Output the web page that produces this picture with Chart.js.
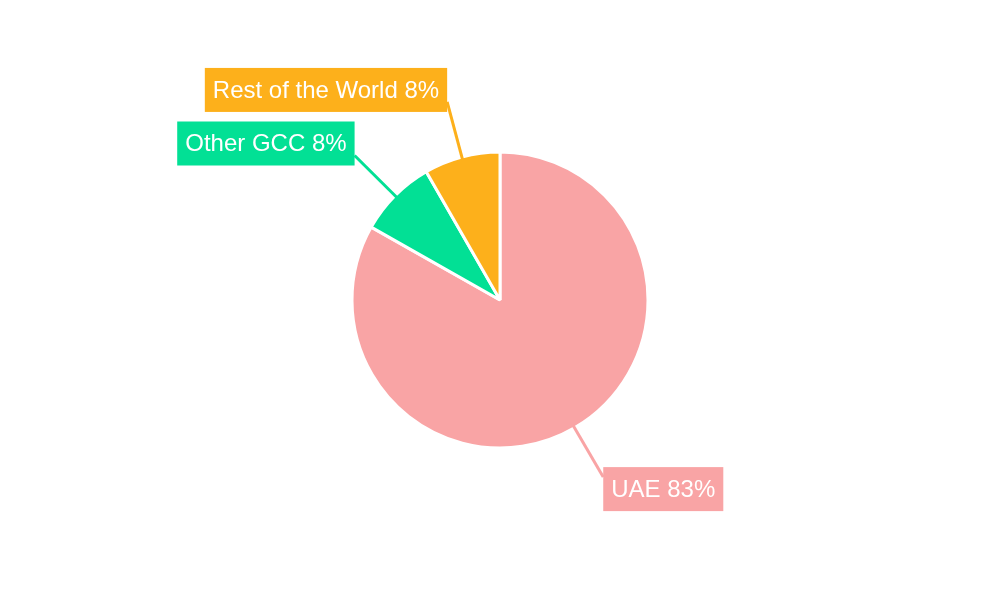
<!DOCTYPE html>
<html lang="en">
<head>
    <meta charset="UTF-8">
    <title>Revenue by Region</title>
    <script src="https://cdn.jsdelivr.net/npm/chart.js"></script>
    <style>
        html, body { margin: 0; padding: 0; background: #fff; }
        #wrap { width: 1000px; height: 600px; }
    </style>
</head>
<body>
    <div id="wrap"><canvas id="pieChart"></canvas></div>
    <script>
        const regions = ['UAE', 'Other GCC', 'Rest of the World'];
        const shares = [83.2, 8.5, 8.3];
        const colors = ['#F9A4A5', '#02E095', '#FDB01B'];

        // leader lines + coloured label boxes
        const calloutLabels = {
            id: 'calloutLabels',
            afterDatasetsDraw(chart) {
                const ctx = chart.ctx;
                const meta = chart.getDatasetMeta(0);
                ctx.save();
                ctx.font = '24px "Liberation Sans", Arial, sans-serif';
                ctx.textBaseline = 'middle';
                meta.data.forEach((arc, i) => {
                    const mid = (arc.startAngle + arc.endAngle) / 2;
                    const cos = Math.cos(mid), sin = Math.sin(mid);
                    const r = arc.outerRadius;
                    const x0 = arc.x + cos * (r - 3), y0 = arc.y + sin * (r - 3);
                    const x1 = arc.x + cos * (r + 57), y1 = arc.y + sin * (r + 57);

                    ctx.strokeStyle = colors[i];
                    ctx.lineWidth = 3;
                    ctx.beginPath();
                    ctx.moveTo(x0, y0);
                    ctx.lineTo(x1, y1);
                    ctx.stroke();

                    const text = regions[i] + ' ' + Math.floor(shares[i]) + '%';
                    const w = ctx.measureText(text).width + 16;
                    const h = 44;
                    const bx = cos >= 0 ? x1 : x1 - w;
                    const by = y1 + (sin >= 0 ? 12 : -12) - h / 2;
                    ctx.fillStyle = colors[i];
                    ctx.fillRect(bx, by, w, h);
                    ctx.fillStyle = '#fff';
                    ctx.textAlign = 'left';
                    ctx.fillText(text, bx + 8, by + h / 2 + 1);
                });
                ctx.restore();
            }
        };

        new Chart(document.getElementById('pieChart'), {
            type: 'pie',
            data: {
                labels: regions,
                datasets: [{
                    data: shares,
                    backgroundColor: colors,
                    borderColor: '#fff',
                    borderWidth: 3,
                    radius: 148
                }]
            },
            options: {
                responsive: true,
                maintainAspectRatio: false,
                animation: false,
                plugins: {
                    legend: { display: false },
                    tooltip: { enabled: false }
                }
            },
            plugins: [calloutLabels]
        });
    </script>
</body>
</html>
